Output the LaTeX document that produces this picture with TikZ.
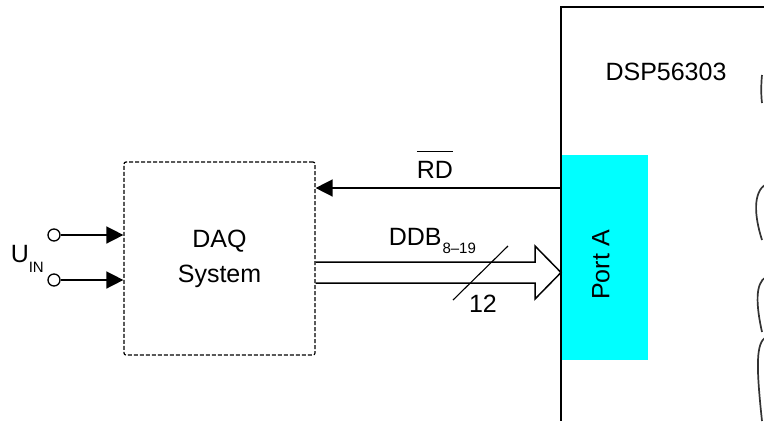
\documentclass[tikz,border=0pt]{standalone}
\usepackage{fontspec}
\setmainfont{Liberation Sans}
\usetikzlibrary{arrows.meta}
\definecolor{portcyan}{RGB}{0,255,255}
\newcommand{\ovbar}[1]{\vbox{\hrule height 1.3pt\kern 9pt\hbox{#1}}}
\begin{document}
\begin{tikzpicture}[x=1pt,y=-1pt,
  line width=1.5pt,
  lbl/.style={font=\fontsize{25}{35}\selectfont, inner sep=0pt},
  tip/.style={-{Triangle[length=17pt,width=17pt]}},
  term/.style={circle, draw, line width=1.3pt, minimum size=12pt, inner sep=0pt},
  dashbox/.style={draw, dash pattern=on 4pt off 2pt, line width=1.2pt, rounded corners=2pt},
  wave/.style={draw=black!80, line width=1.7pt},
]
\useasboundingbox (0,0) rectangle (764,421);

% DSP chip port
\node[fill=portcyan, minimum width=87pt, minimum height=205pt, inner sep=0pt] (portA) at (604.5,257.5) {};
\node[lbl, rotate=90] (porttext) at (601,265) {Port A};
% DSP outline (partly outside picture)
\coordinate (dsptop) at (764,7);
\coordinate (dspbot) at (561,421);
\draw (dsptop) -| (dspbot);
\node[lbl, anchor=base] (dsplabel) at (666,80) {DSP56303};

% torn right edge
\draw[wave] (762,75) .. controls (761,85) and (761,95) .. (762,103);
\draw[wave] (766,184) .. controls (753,192) and (754,215) .. (762,240);
\draw[wave] (766,277) .. controls (755,283) and (756,305) .. (762,332);
\draw[wave] (766,337) .. controls (756,343) and (756,365) .. (762,421);

% DAQ system
\node[dashbox, lbl, align=center, minimum width=191pt, minimum height=193pt] (daq) at (219.5,258.5) {DAQ\\System};

% inputs
\node[term] (in1) at (54,235) {};
\node[term] (in2) at (54,280) {};
\draw[tip] (in1.east) -- (daq.west |- in1.east);
\draw[tip] (in2.east) -- (daq.west |- in2.east);
\node[lbl, anchor=base west] (uin) at (10,262) {U\raisebox{-10pt}{\fontsize{15}{15}\selectfont IN}};

% RD line
\coordinate (rdstart) at (561,188);
\draw[tip] (rdstart) -- (daq.east |- rdstart);
\node[lbl, anchor=base] (rd) at (435,178) {\ovbar{RD}};

% data bus
\coordinate (bustip) at (561,272.5);
\draw (daq.east |- 0,262) -- (535,262) -- (535,246) -- (bustip) -- (535,299) -- (535,283) -- (daq.east |- 0,283);
\coordinate (sl1) at (453,300);
\coordinate (sl2) at (508,246);
\draw[line width=1.1pt] (sl1) -- (sl2);
\node[lbl, anchor=base west] (ddb) at (388,245) {DDB\kern1pt\raisebox{-8pt}{\fontsize{15}{15}\selectfont 8--19}};
\node[lbl, anchor=base] (n12) at (483,312) {12};
\end{tikzpicture}
\end{document}
